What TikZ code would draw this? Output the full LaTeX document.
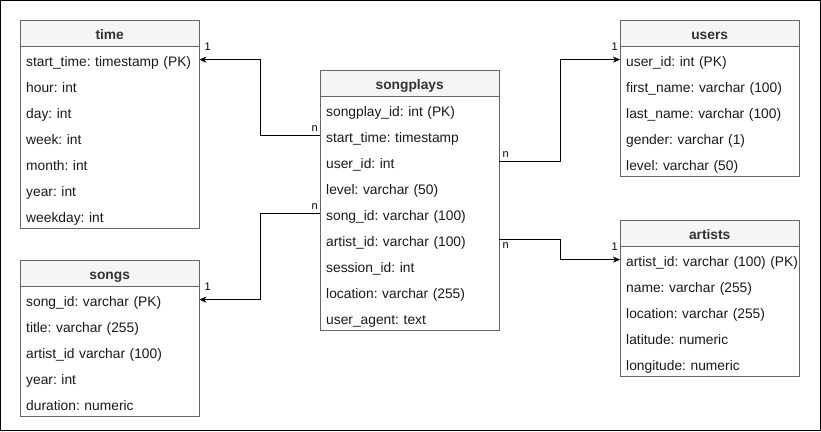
\documentclass[tikz,border=0pt]{standalone}
\usepackage{fontspec}
\setmainfont{Liberation Sans}
\frenchspacing
\usetikzlibrary{positioning,arrows.meta}
\definecolor{boxline}{HTML}{666666}
\definecolor{headfill}{HTML}{F5F5F5}
\definecolor{headtext}{HTML}{333333}

\begin{document}
\begin{tikzpicture}[x=1pt,y=-1pt,
		tablehead/.style={draw=boxline, fill=headfill, minimum width=179pt, minimum height=26pt, inner sep=0pt, text height=12pt, text depth=0pt, anchor=north west, text=headtext, font=\fontsize{13.8}{16}\selectfont\bfseries},
		tablebody/.style={draw=boxline, minimum width=179pt, inner sep=0pt},
		field/.style={anchor=north west, minimum height=26pt, text width=167pt, inner xsep=6pt, inner ysep=0pt, text height=14pt, text depth=0pt, align=left, text=black!90, font=\fontsize{13.8}{16}\selectfont},
		link/.style={draw, -{Stealth[length=7pt,width=6pt]}},
		card/.style={inner sep=1pt, font=\fontsize{11}{13}\selectfont}]
			\useasboundingbox (0,0) rectangle (821,431);
			\draw (0.5,0.5) rectangle (820.5,430.5);
			% tables
			\node[tablehead] (time) at (20,20) {time} ;
			\node[tablebody, minimum height=182pt, below=0pt of time] (time-body) {} ;
			\foreach \f [count=\i] in {start\_time: timestamp (PK), hour: int, day: int, week: int, month: int, year: int, weekday: int}
				\node[field] (time-\i) at ([yshift={-(\i-1)*26pt}]time.south west) {\f} ;
			\node[tablehead] (songs) at (20,260) {songs} ;
			\node[tablebody, minimum height=130pt, below=0pt of songs] (songs-body) {} ;
			\foreach \f [count=\i] in {song\_id: varchar (PK), title: varchar (255), artist\_id varchar (100), year: int, duration: numeric}
				\node[field] (songs-\i) at ([yshift={-(\i-1)*26pt}]songs.south west) {\f} ;
			\node[tablehead] (songplays) at (320,70) {songplays} ;
			\node[tablebody, minimum height=234pt, below=0pt of songplays] (songplays-body) {} ;
			\foreach \f [count=\i] in {songplay\_id: int (PK), start\_time: timestamp, user\_id: int, level: varchar (50), song\_id: varchar (100), artist\_id: varchar (100), session\_id: int, location: varchar (255), user\_agent: text}
				\node[field] (songplays-\i) at ([yshift={-(\i-1)*26pt}]songplays.south west) {\f} ;
			\node[tablehead] (users) at (620,20) {users} ;
			\node[tablebody, minimum height=130pt, below=0pt of users] (users-body) {} ;
			\foreach \f [count=\i] in {user\_id: int (PK), first\_name: varchar (100), last\_name: varchar (100), gender: varchar (1), level: varchar (50)}
				\node[field] (users-\i) at ([yshift={-(\i-1)*26pt}]users.south west) {\f} ;
			\node[tablehead] (artists) at (620,220) {artists} ;
			\node[tablebody, minimum height=130pt, below=0pt of artists] (artists-body) {} ;
			\foreach \f [count=\i] in {\mbox{artist\_id: varchar (100) (PK)}, name: varchar (255), location: varchar (255), latitude: numeric, longitude: numeric}
				\node[field] (artists-\i) at ([yshift={-(\i-1)*26pt}]artists.south west) {\f} ;
			% links
			\draw[link] (songplays-2.west) -- ++(-60,0) |- (time-1.east) ;
			\draw[link] (songplays-5.west) -- ++(-60,0) |- (songs-1.east) ;
			\draw[link] (songplays-3.east) -- ++(61,0) |- (users-1.west) ;
			\draw[link] (songplays-6.east) -- ++(61,0) |- (artists-1.west) ;
			\node[card, above left=3pt and 1pt of songplays-2.west] (n-time) {n} ;
			\node[card, above right=8pt and 4pt of time-1.east] (one-time) {1} ;
			\node[card, above left=3pt and 1pt of songplays-5.west] (n-songs) {n} ;
			\node[card, above right=8pt and 4pt of songs-1.east] (one-songs) {1} ;
			\node[card, above right=3pt and 2pt of songplays-3.east] (n-users) {n} ;
			\node[card, above left=8pt and 1pt of users-1.west] (one-users) {1} ;
			\node[card, below right=2pt and 2pt of songplays-6.east] (n-artists) {n} ;
			\node[card, above left=8pt and 1pt of artists-1.west] (one-artists) {1} ;
		\end{tikzpicture}
\end{document}
